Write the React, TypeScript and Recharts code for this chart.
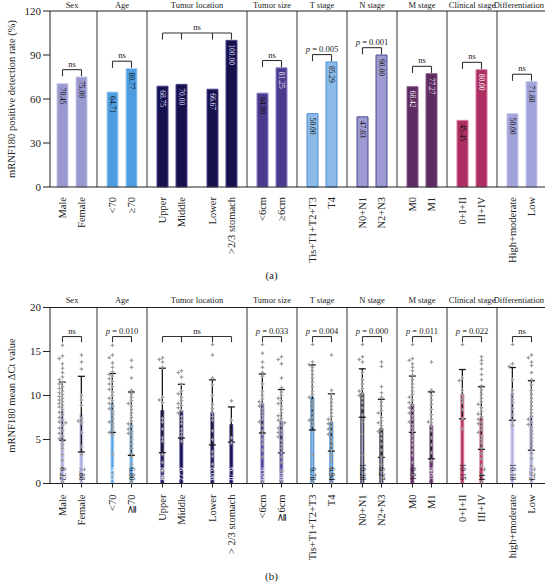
import { ComposedChart, Bar, Cell, XAxis, YAxis, ReferenceLine, ReferenceDot, LabelList, ErrorBar, Scatter } from 'recharts'

const groups = ['Sex', 'Age', 'Tumor location', 'Tumor size', 'T stage', 'N stage', 'M stage', 'Clinical stage', 'Differentiation']
const groupSizes = [2, 2, 4, 2, 2, 2, 2, 2, 2]

const categoriesA = ['Male', 'Female', '<70', '≥70', 'Upper', 'Middle', 'Lower', '>2/3 stomach', '<6cm', '≥6cm', 'Tis+T1+T2+T3', 'T4', 'N0+N1', 'N2+N3', 'M0', 'M1', '0+I+II', 'III+IV', 'High+moderate', 'Low']
const categoriesB = ['Male', 'Female', '<70', '≧70', 'Upper', 'Middle', 'Lower', '> 2/3 stomach', '<6cm', '≧6cm', 'Tis+T1+T2+T3', 'T4', 'N0+N1', 'N2+N3', 'M0', 'M1', '0+I+II', 'III+IV', 'high+moderate', 'Low']

const positiveRate = [70.45, 75.0, 64.71, 80.77, 68.75, 70.0, 66.67, 100.0, 64.0, 81.25, 50.0, 85.29, 47.83, 90.0, 68.42, 77.27, 45.45, 80.0, 50.0, 71.88]
const meanCt = [8.22, 7.88, 9.15, 6.8, 8.3, 8.22, 8.08, 6.7, 9.09, 7.08, 9.78, 6.94, 10.28, 6.27, 9.01, 6.61, 10.15, 7.44, 10.18, 7.73]
const sdCt = [3.3, 4.3, 3.35, 3.6, 4.8, 3.05, 3.7, 2.0, 3.35, 3.6, 3.7, 3.25, 2.75, 3.3, 3.2, 3.8, 2.8, 3.56, 3.0, 3.95]

const pValuesA = ['ns', 'ns', 'ns', 'ns', 'p = 0.005', 'p = 0.001', 'ns', 'ns', 'ns']
const pValuesB = ['ns', 'p = 0.010', 'ns', 'p = 0.033', 'p = 0.004', 'p = 0.000', 'p = 0.011', 'p = 0.022', 'ns']

// individual ΔCt values per bar
const ctPoints: number[][] = [
  [15.7, 14.5, 14.2, 13.6, 13.1, 12.6, 12.1, 11.8, 11.5, 11.3, 11.0, 10.8, 10.5, 10.3, 10.1, 9.9, 9.7, 9.5, 9.3, 9.1, 8.9, 8.7, 8.4, 8.1, 7.8, 7.5, 7.2, 7.0, 6.9, 6.6, 6.3, 6.0, 5.7, 5.4, 5.1, 4.8, 4.4, 4.0, 3.3, 2.6, 1.8, 0.9, 0.2],
  [14.6, 13.8, 13.0, 10.0, 9.5, 8.9, 7.4, 7.1, 6.9, 5.8, 4.2, 3.3, 1.0],
  [15.7, 14.6, 14.3, 13.7, 13.2, 12.7, 12.4, 12.2, 11.9, 11.6, 11.3, 11.0, 10.7, 10.4, 10.0, 9.7, 9.4, 9.1, 8.8, 8.5, 8.2, 7.8, 7.3, 7.0, 6.8, 6.4, 6.0, 5.8, 5.5, 3.3, 1.0],
  [14.0, 13.2, 12.0, 10.6, 10.2, 9.8, 9.4, 9.1, 8.8, 8.4, 8.0, 7.5, 7.1, 6.8, 6.5, 6.2, 5.9, 5.7, 5.5, 5.0, 4.5, 4.0, 3.4, 3.0, 2.2, 0.8, 0.2],
  [14.3, 14.1, 13.8, 13.2, 9.8, 9.5, 9.2, 7.4, 7.0, 6.2, 5.2, 4.8, 3.3, 2.4, 1.4, 0.6],
  [12.8, 12.6, 12.1, 11.3, 10.5, 10.2, 9.8, 9.4, 9.1, 8.9, 8.6, 8.3, 8.0, 7.6, 7.2, 6.8, 6.2, 5.8, 5.4, 4.8],
  [15.8, 14.6, 12.0, 11.2, 10.0, 9.0, 8.5, 8.0, 7.6, 7.2, 6.0, 5.0, 3.6, 3.1, 2.2],
  [9.4, 7.2, 5.2, 4.6],
  [15.8, 14.8, 13.8, 13.2, 12.6, 12.2, 11.3, 10.5, 10.0, 9.6, 9.3, 9.0, 8.8, 8.5, 8.1, 7.7, 7.3, 7.0, 6.6, 6.0, 5.6, 5.0, 4.5, 3.8, 3.0, 0.2],
  [14.4, 14.1, 13.6, 12.0, 10.9, 10.4, 10.0, 9.7, 9.4, 9.1, 8.8, 8.4, 8.0, 7.7, 7.4, 7.2, 7.0, 6.9, 6.6, 6.3, 6.0, 5.8, 5.6, 5.3, 4.9, 4.4, 4.0, 3.5, 3.0, 2.4, 1.4, 0.3],
  [15.8, 13.8, 13.5, 13.2, 12.8, 12.4, 12.0, 11.5, 11.0, 10.5, 10.1, 9.8, 9.4, 9.0, 8.6, 8.0, 7.5, 7.2, 7.0, 6.6, 3.2, 0.2],
  [14.6, 10.6, 10.1, 9.6, 9.2, 8.8, 8.4, 8.0, 7.6, 7.3, 7.0, 6.8, 6.5, 6.2, 5.9, 5.6, 5.2, 4.8, 4.3, 3.8, 3.2, 2.6, 1.8, 1.0, 0.2],
  [15.8, 14.4, 14.1, 13.8, 12.6, 11.8, 11.3, 10.8, 10.5, 10.2, 10.0, 9.7, 9.2, 8.6, 7.8, 7.0, 5.6, 3.2],
  [13.8, 13.3, 11.0, 10.3, 9.8, 9.3, 8.8, 8.3, 8.0, 7.5, 7.1, 6.9, 6.6, 6.2, 5.9, 5.6, 5.1, 4.5, 3.8, 3.0, 2.2, 1.4, 0.6],
  [15.8, 14.2, 14.0, 13.6, 13.2, 12.8, 12.3, 11.8, 11.3, 10.9, 10.5, 10.1, 9.8, 9.5, 9.2, 8.9, 8.6, 8.3, 8.0, 7.7, 7.3, 7.0, 6.7, 6.3, 5.9, 5.4, 4.9, 4.4, 3.8, 3.2, 2.4, 1.0],
  [13.8, 10.6, 10.0, 9.5, 9.0, 8.4, 7.8, 7.3, 7.0, 6.9, 6.5, 6.0, 5.2, 4.4, 3.5, 2.6, 1.4],
  [15.8, 12.0, 11.7, 10.6, 10.0, 9.6, 9.2, 8.4, 7.4, 6.2],
  [14.4, 14.0, 13.6, 13.0, 12.4, 11.8, 11.1, 10.6, 10.1, 9.7, 9.3, 9.0, 8.6, 8.2, 7.9, 7.6, 7.3, 7.0, 6.8, 6.5, 6.1, 5.8, 5.4, 5.0, 4.6, 4.0, 3.4, 2.8, 2.0, 1.0, 0.2],
  [15.8, 13.6, 13.3, 11.8, 10.6, 10.2, 9.6, 9.2, 8.5, 7.8, 7.1, 6.6],
  [14.6, 14.3, 13.8, 13.4, 12.6, 11.8, 11.2, 10.6, 10.1, 9.7, 9.3, 8.8, 8.4, 8.0, 7.6, 7.3, 7.0, 6.7, 6.4, 6.0, 5.6, 5.2, 4.8, 4.3, 3.8, 3.4, 2.8, 2.0, 1.2, 0.4],
]

// styles per group
const fillA = ['#9a99cf', '#4e9de0', '#16104d', '#4b3a8d', '#8cbbe9', '#9d9bd2', '#5f2b63', '#ad2f62', '#a3a3db']
const strokeA = ['#c9c8ec', '#a8d0f3', '#4b4690', '#8c80c8', '#4d8fd0', '#4a4a8f', '#8a5a8f', '#d87aa0', '#c8c8ee']
const fillB = ['#a9a8dc', '#55a2e3', '#16104d', '#4f3d92', '#8dbde9', '#a6a5d8', '#5e2a63', '#b0305e', '#b2b2e2']
const strokeB = ['#cfcff0', '#a8d0f3', '#4b4690', '#8c80c8', '#3a7fc5', '#222', '#8a5a8f', '#d87aa0', '#d0d0f0']
const labelColorA = ['#111', '#111', '#111', '#111', '#dcdcf5', '#dcdcf5', '#dcdcf5', '#dcdcf5', '#111', '#e8e8f8', '#111', '#111', '#111', '#111', '#eee', '#eee', '#111', '#fff', '#111', '#111']
const labelColorB = ['#111', '#111', '#fff', '#111', '#fff', '#fff', '#fff', '#fff', '#eee', '#eee', '#111', '#111', '#111', '#111', '#111', '#eee', '#111', '#111', '#111', '#111']

const FONT = "'Liberation Serif', 'Times New Roman', serif"
const W = 545
const H = 290

if (typeof document !== 'undefined') document.body.style.margin = '0'

const barGroup: number[] = groupSizes.flatMap((n, g) => Array(n).fill(g))
const barX = (i: number) => Math.floor(i / 2) + 0.5 + (i % 2 ? 0.19 : -0.19)
const groupStart = groupSizes.map((_, g) => groupSizes.slice(0, g).reduce((a, b) => a + b, 0))
const groupCenters = groupSizes.map((n, g) => (groupStart[g] + n / 2) / 2)
const separators = groupStart.slice(1).map(s => s / 2)
const barXs = categoriesA.map((_, i) => barX(i))

const dataA = categoriesA.map((name, i) => ({ name, x: barX(i), value: positiveRate[i] }))
const dataB = categoriesB.map((name, i) => ({ name, x: barX(i), value: meanCt[i], sd: sdCt[i] }))

// simple beeswarm: nudge dots sideways when they would overlap
function swarm(values: number[], pxPerUnit: number) {
  const placed: { dx: number; py: number }[] = []
  const offs = [0, -3.2, 3.2, -6.4, 6.4, -9.6, 9.6]
  return values.map(v => {
    const py = v * pxPerUnit
    const dx = offs.find(o => placed.every(q => Math.abs(q.py - py) >= 3.2 || Math.abs(q.dx - o) >= 2.8)) ?? 0
    placed.push({ dx, py })
    return { v, dx }
  })
}
const dots = ctPoints.flatMap((vals, i) => swarm(vals, 8.8).map(p => ({ x: barX(i) + p.dx / 50, y: p.v })))

const Star = (p: any) => {
  const { cx, cy } = p
  const r = 2.4, s = 0.75
  return (
    <path
      d={`M${cx},${cy - r}L${cx + s},${cy - s}L${cx + r},${cy}L${cx + s},${cy + s}L${cx},${cy + r}L${cx - s},${cy + s}L${cx - r},${cy}L${cx - s},${cy - s}Z`}
      fill="#9c9c9c"
    />
  )
}

const PText = ({ x, y, text }: { x: number; y: number; text: string }) => (
  <text x={x} y={y} textAnchor="middle" fontFamily={FONT} fontSize={8.5} fill="#222">
    {text.startsWith('p') ? (
      <>
        <tspan fontStyle="italic">p</tspan>
        {text.slice(1)}
      </>
    ) : text}
  </text>
)

function brackets(values: number[], pvals: string[], levelOf: (g: number) => number, leg: number) {
  const out: any[] = []
  groupSizes.forEach((n, g) => {
    const idx = Array.from({ length: n }, (_, k) => groupStart[g] + k)
    const top = levelOf(g)
    const x0 = barX(idx[0])
    const x1 = barX(idx[idx.length - 1])
    out.push(<ReferenceLine key={`h${g}`} segment={[{ x: x0, y: top }, { x: x1, y: top }]} stroke="#333" strokeWidth={1.1} />)
    idx.forEach(i =>
      out.push(<ReferenceLine key={`v${g}-${i}`} segment={[{ x: barX(i), y: top }, { x: barX(i), y: top - leg }]} stroke="#333" strokeWidth={1.1} />)
    )
    out.push(
      <ReferenceDot
        key={`t${g}`}
        x={(x0 + x1) / 2}
        y={top}
        r={0}
        shape={(p: any) => <PText x={p.cx} y={p.cy - 3} text={pvals[g]} />}
      />
    )
  })
  return out
}

// last title sits flush against the right edge, as in the figure
const GroupTick = (p: any) => {
  const last = p.index === groups.length - 1
  return (
    <text x={last ? W - 1 : p.x} y={7.5} textAnchor={last ? 'end' : 'middle'} fontFamily={FONT} fontSize={8.5} fill="#222">
      {groups[p.index]}
    </text>
  )
}

const catTick = (cats: string[], dy: number) => (p: any) => (
  <text
    x={p.x}
    y={p.y + dy}
    textAnchor="end"
    dominantBaseline="central"
    transform={`rotate(-90, ${p.x}, ${p.y + dy})`}
    fontFamily={FONT}
    fontSize={10.5}
    fill="#222"
  >
    {cats[p.index]}
  </text>
)

const yTitle = (text: string) => (p: any) => {
  const vb = p.viewBox
  const cy = vb.y + vb.height / 2
  return (
    <text x={11} y={cy} textAnchor="middle" dominantBaseline="central" transform={`rotate(-90, 11, ${cy})`} fontFamily={FONT} fontSize={10.5} fill="#222">
      {text}
    </text>
  )
}

const labelTop = (p: any) => {
  const cx = p.x + p.width / 2
  const y = p.y + 4
  return (
    <text x={cx} y={y} textAnchor="start" dominantBaseline="central" transform={`rotate(90, ${cx}, ${y})`} fontFamily={FONT} fontSize={7.5} fill={labelColorA[p.index]}>
      {Number(p.value).toFixed(2)}
    </text>
  )
}

const labelBase = (p: any) => {
  const cx = p.x + p.width / 2
  const y = p.y + p.height - 3
  return (
    <text x={cx} y={y} textAnchor="end" dominantBaseline="central" transform={`rotate(90, ${cx}, ${y})`} fontFamily={FONT} fontSize={7.5} fill={labelColorB[p.index]}>
      {Number(p.value).toFixed(2)}
    </text>
  )
}

const axisCommon = { type: 'number' as const, dataKey: 'x', domain: [0.06, 9.96], allowDataOverflow: true }
const yTick = { fontFamily: FONT, fontSize: 11, fill: '#222' }

function PanelA() {
  return (
    <ComposedChart width={W} height={H} data={dataA} margin={{ top: 0, right: 0, bottom: 0, left: 0 }}>
      <XAxis xAxisId="top" orientation="top" {...axisCommon} height={11} ticks={groupCenters} interval={0} axisLine={false} tickLine={false} tick={GroupTick} />
      <XAxis {...axisCommon} height={103} ticks={barXs} interval={0} axisLine={{ stroke: '#222' }} tickLine={false} tickSize={5} tick={catTick(categoriesA, 3)} />
      <YAxis domain={[0, 120]} ticks={[0, 30, 60, 90, 120]} width={50} tick={yTick} tickSize={7} axisLine={{ stroke: '#222' }} tickLine={{ stroke: '#222' }} label={yTitle('mRNF180 positive detection rate (%)')} />
      <ReferenceLine y={120} stroke="#222" />
      {separators.map(s => (
        <ReferenceLine key={s} x={s} stroke="#333" />
      ))}
      <Bar dataKey="value" barSize={11} strokeWidth={1} isAnimationActive={false}>
        {dataA.map((_, i) => (
          <Cell key={i} fill={fillA[barGroup[i]]} stroke={strokeA[barGroup[i]]} />
        ))}
        <LabelList dataKey="value" content={labelTop} />
      </Bar>
      {brackets(positiveRate, pValuesA, g => Math.max(...positiveRate.slice(groupStart[g], groupStart[g] + groupSizes[g])) + 5, 4.5)}
    </ComposedChart>
  )
}

function PanelB() {
  return (
    <ComposedChart width={W} height={H} data={dataB} margin={{ top: 0, right: 0, bottom: 0, left: 0 }}>
      <XAxis xAxisId="top" orientation="top" {...axisCommon} height={12.5} ticks={groupCenters} interval={0} axisLine={false} tickLine={false} tick={GroupTick} />
      <XAxis {...axisCommon} height={101.5} ticks={barXs} interval={0} axisLine={{ stroke: '#222' }} tickLine={{ stroke: '#222' }} tickSize={4} tick={catTick(categoriesB, 5)} />
      <YAxis domain={[0, 20]} ticks={[0, 5, 10, 15, 20]} width={50} tick={yTick} tickSize={7} axisLine={{ stroke: '#222' }} tickLine={{ stroke: '#222' }} label={yTitle('mRNF180 mean ΔCt value')} />
      <ReferenceLine y={20} stroke="#222" />
      {separators.map(s => (
        <ReferenceLine key={s} x={s} stroke="#333" />
      ))}
      <Bar dataKey="value" barSize={11} strokeWidth={1} isAnimationActive={false}>
        {dataB.map((_, i) => (
          <Cell key={i} fill={fillB[barGroup[i]]} stroke={strokeB[barGroup[i]]} />
        ))}
        <ErrorBar dataKey="sd" width={3.5} stroke="#1a1a1a" strokeWidth={1.3} direction="y" />
        <LabelList dataKey="value" content={labelBase} />
      </Bar>
      <Scatter data={dots} dataKey="y" shape={Star} isAnimationActive={false} />
      {brackets(meanCt, pValuesB, () => 16.7, 0.65)}
    </ComposedChart>
  )
}

const caption: React.CSSProperties = { position: 'absolute', left: 0, width: W - 2, textAlign: 'center', fontFamily: FONT, fontSize: 11, color: '#222' }

export default function App() {
  return (
    <div style={{ position: 'relative', width: W, height: 585, background: '#fff', overflow: 'hidden' }}>
      <div style={{ position: 'absolute', top: 0, left: 0 }}>
        <PanelA />
      </div>
      <div style={{ position: 'absolute', top: 295, left: 0 }}>
        <PanelB />
      </div>
      <div style={{ ...caption, top: 269 }}>(a)</div>
      <div style={{ ...caption, top: 570 }}>(b)</div>
    </div>
  )
}
